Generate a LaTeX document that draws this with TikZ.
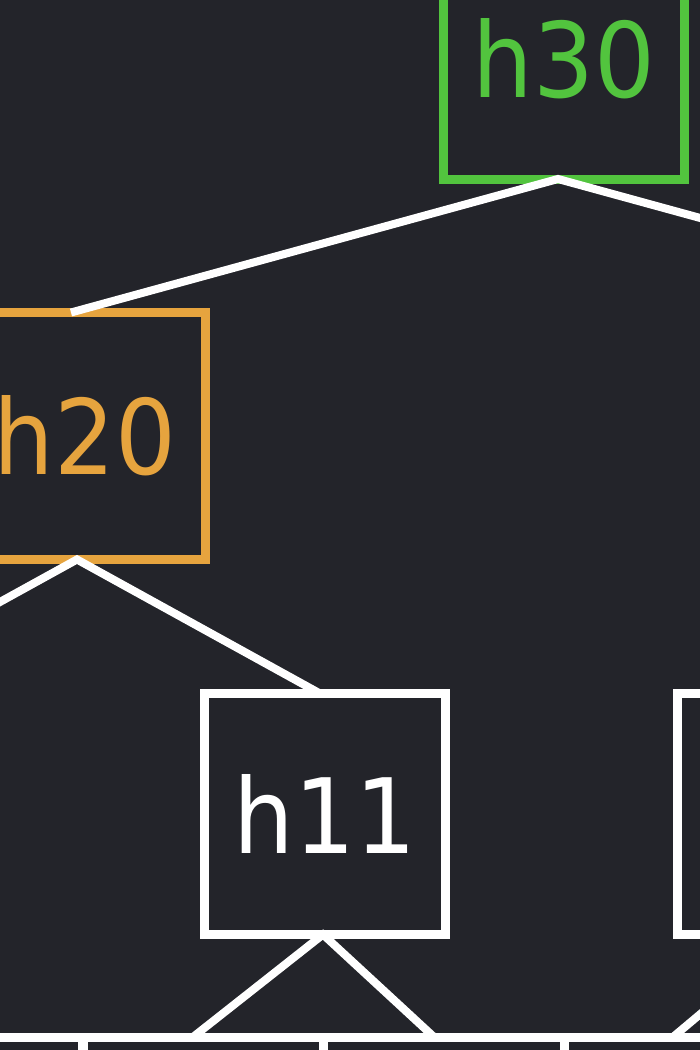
\documentclass[tikz,border=0pt]{standalone}
\usepackage{fontspec}
\setmainfont{DejaVu Sans}[FakeStretch=0.92]
\definecolor{bg}{HTML}{23242A}
\definecolor{hgreen}{HTML}{52C43E}
\definecolor{horange}{HTML}{E6A43E}
\begin{document}
\begin{tikzpicture}[x=0.5pt, y=-0.5pt,
    hbox/.style={draw=white, text=white, line width=4.5pt, minimum size=120.5pt, inner sep=0pt, outer sep=0pt, font=\fontsize{52}{60}\selectfont},
    leaf/.style={draw=white, line width=4.5pt, minimum size=120.5pt, outer sep=0pt},
    link/.style={white, line width=4pt}]
    \fill[bg] (0,0) rectangle (700,1050);
    \useasboundingbox (0,0) rectangle (700,1050);
    \clip (0,0) rectangle (700,1050);
    \node[hbox, draw=hgreen, text=hgreen] (h30) at (564,58.5) {h30};
    \node[hbox, draw=horange, text=horange, minimum height=123.5pt] (h20) at (85,436) {h20};
    \node[hbox] (h11) at (325,814) {h11};
    \node[hbox] (h12) at (798,814) {};
    \foreach \x/\n in {-37/a, 203/b, 444/c, 685/d}
        \node[leaf] (leaf\n) at (\x,1157.5) {};
    \coordinate (h10) at (-166,693.5);
    \coordinate (h21) at (1045,312.5);
    \draw[link] (h10) -- ([xshift=-4pt]h20.south) -- ([xshift=-2.5pt]h11.north);
    \draw[link] ([xshift=-7pt]h20.north) -- ([xshift=-3pt]h30.south) -- (h21);
    \draw[link] ([xshift=-5pt]leafb.north) -- ([xshift=-1pt]h11.south) -- ([xshift=-5pt]leafc.north);
    \draw[link] ([xshift=-6pt]leafd.north) -- ([xshift=-1.5pt]h12.south);
\end{tikzpicture}
\end{document}
